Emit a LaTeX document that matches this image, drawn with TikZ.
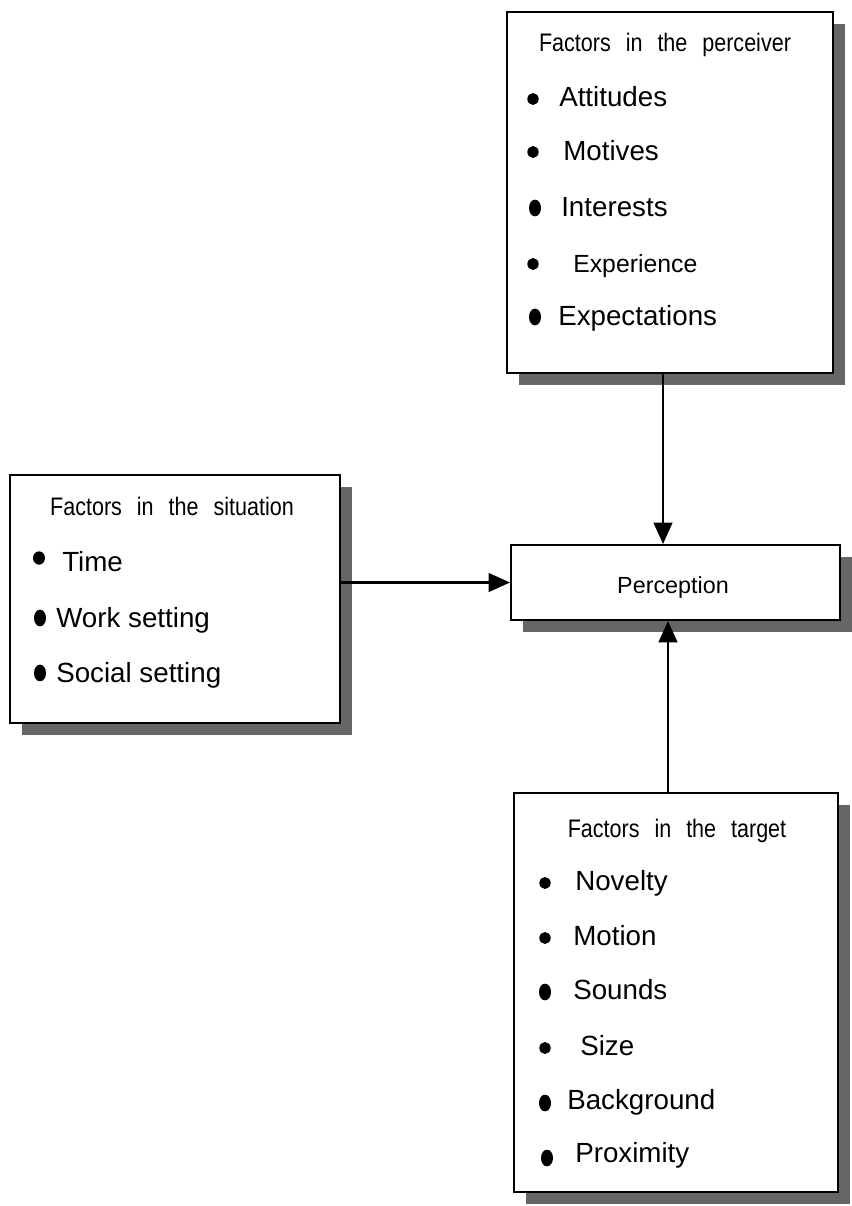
\documentclass[tikz,border=0pt]{standalone}
\usepackage{fontspec}
\setmainfont{Liberation Sans}
\newfontfamily\narrowfont[FakeStretch=0.85,WordSpace=2.5]{Liberation Sans}
\usetikzlibrary{arrows.meta,shadows,shapes.geometric}

\tikzset{
  factorbox/.style={rectangle, draw=black, line width=1.5pt, fill=white, inner sep=0pt,
    drop shadow={shadow xshift=9pt, shadow yshift=-9pt, fill=black!60, opacity=1}},
  head/.style={font=\narrowfont\fontsize{19}{22}\selectfont, anchor=base, inner sep=0pt},
  item/.style={font=\fontsize{20.8}{25}\selectfont, anchor=base west, inner sep=0pt},
  dot/.style={ellipse, fill=black, inner sep=0pt, minimum width=8.5pt, minimum height=9pt},
  bigdot/.style={dot, minimum width=9pt, minimum height=12.5pt},
  link/.style={line width=1.6pt, -{Triangle[length=16pt, width=14pt]}}
}

\begin{document}
\begin{tikzpicture}[x=0.75pt, y=-0.75pt]
    \useasboundingbox (0,0) rectangle (851,1206);

    % the four boxes
    \node[factorbox, minimum width=244.5pt, minimum height=270.75pt] (perceiver) at (670,192.5) {};
    \node[factorbox, minimum width=247.5pt, minimum height=186pt] (situation) at (175,599) {};
    \node[factorbox, minimum width=246.75pt, minimum height=56.25pt] (perception) at (675.5,582.5) {};
    \node[factorbox, minimum width=243pt, minimum height=299.25pt] (target) at (676,992.5) {};

    % connectors
    \draw[link] ([xshift=-5.25pt]perceiver.south) -- ([xshift=-5.25pt]perceiver.south |- perception.north);
    \draw[link] (situation.east |- perception.west) -- (perception.west);
    \draw[link] ([xshift=-6pt]target.north) -- ([xshift=-6pt]target.north |- perception.south);

    \node[font=\fontsize{17.5}{21}\selectfont, anchor=base, inner sep=0pt] (ptext) at (673,593) {Perception};

    % perceiver
    \node[head] (ph) at (665,52) {Factors in the perceiver};
    \begin{scope}[every node/.style={item}]
        \node (p1) at (559,107) {Attitudes};
        \node (p2) at (563,160) {Motives};
        \node (p3) at (561,216) {Interests};
        \node[font=\fontsize{18.6}{22}\selectfont] (p4) at (573,272) {Experience};
        \node (p5) at (558,325) {Expectations};
    \end{scope}
    \node[dot] (pb1) at (533,99) {};
    \node[dot] (pb2) at (533,152) {};
    \node[bigdot] (pb3) at (535,208) {};
    \node[dot] (pb4) at (533,264) {};
    \node[bigdot] (pb5) at (535,317) {};

    % situation
    \node[head] (sh) at (172,515) {Factors in the situation};
    \begin{scope}[every node/.style={item}]
        \node (s1) at (62,571) {Time};
        \node (s2) at (56,627) {Work setting};
        \node (s3) at (56,682) {Social setting};
    \end{scope}
    \node[dot, minimum width=9pt, minimum height=10pt] (sb1) at (39,558) {};
    \node[bigdot] (sb2) at (40,618) {};
    \node[bigdot] (sb3) at (40,673) {};

    % target
    \node[head] (th) at (677,837) {Factors in the target};
    \begin{scope}[every node/.style={item}]
        \node (t1) at (575,890) {Novelty};
        \node (t2) at (573,945) {Motion};
        \node (t3) at (573,999) {Sounds};
        \node (t4) at (580,1055) {Size};
        \node (t5) at (567,1109) {Background};
        \node (t6) at (575,1162) {Proximity};
    \end{scope}
    \node[dot] (tb1) at (545,883) {};
    \node[dot] (tb2) at (545,938) {};
    \node[bigdot] (tb3) at (545,992) {};
    \node[dot] (tb4) at (545,1048) {};
    \node[bigdot] (tb5) at (545,1103) {};
    \node[bigdot] (tb6) at (547,1158) {};
\end{tikzpicture}
\end{document}
